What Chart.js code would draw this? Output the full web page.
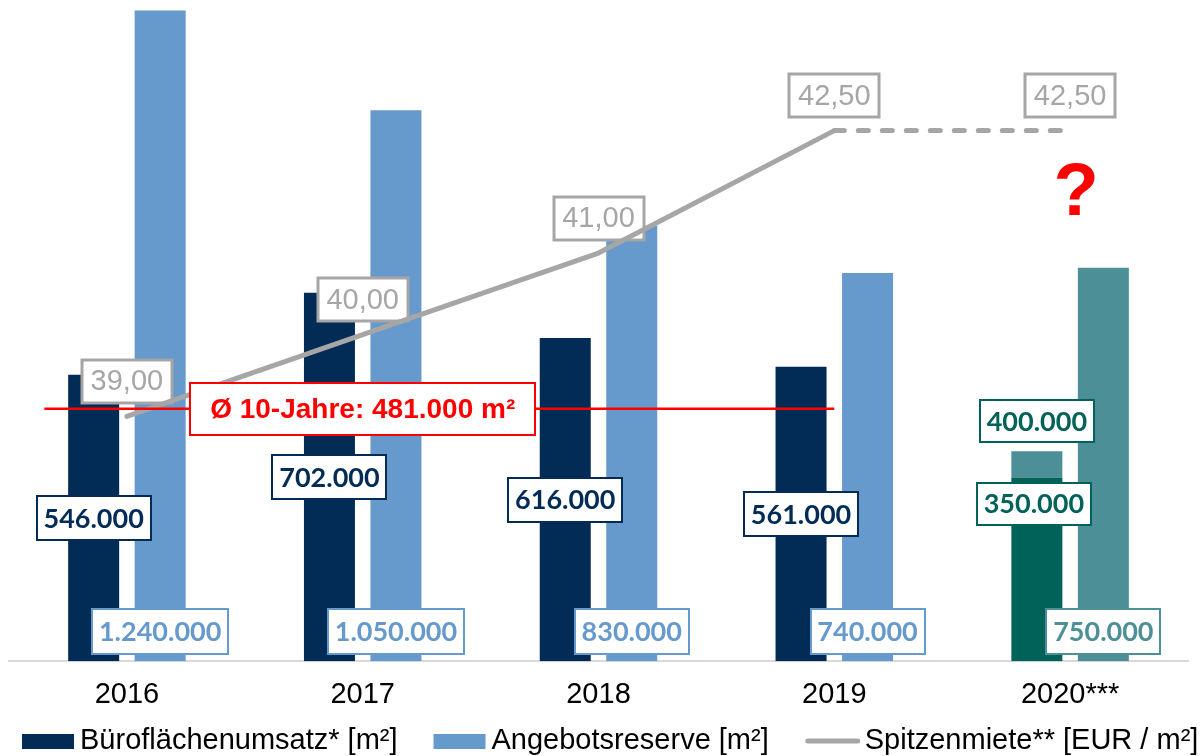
<!DOCTYPE html>
<html><head><meta charset="utf-8">
<script src="https://cdn.jsdelivr.net/npm/chart.js@4/dist/chart.umd.min.js"></script>
<style>html,body{margin:0;padding:0;background:#fff}#wrap{width:1200px;height:756px;position:relative}</style>
</head><body><div id="wrap"><canvas id="c" width="1200" height="756"></canvas></div>
<script>
// ---- data ----
const categories = ['2016', '2017', '2018', '2019', '2020***'];
const bueroUmsatz = [546000, 702000, 616000, 561000, 350000];
const bueroUmsatzZusatz = [null, null, null, null, 50000]; // 2020: 350.000 -> 400.000
const angebotsreserve = [1240000, 1050000, 830000, 740000, 750000];
const spitzenmiete = [39.00, 40.00, 41.00, 42.50, 42.50];
const zehnJahresSchnitt = 481000;
const bueroLabels = ['546.000', '702.000', '616.000', '561.000', '350.000'];
const zusatzLabel = '400.000';
const angebotLabels = ['1.240.000', '1.050.000', '830.000', '740.000', '750.000'];
const mieteLabels = ['39,00', '40,00', '41,00', '42,50', '42,50'];
const schnittLabel = 'Ø 10-Jahre: 481.000 m²';
const legendLabels = ['Büroflächenumsatz* [m²]', 'Angebotsreserve [m²]', 'Spitzenmiete** [EUR / m²]'];

// ---- styles ----
const NAVY = '#022C55', LIGHT = '#6699CC', TEAL_D = '#006259', TEAL_L = '#4C8F96', GRAY = '#A6A6A6', RED = '#FF0000';
const ARIAL = '"Liberation Sans", Arial, sans-serif';
const LABELF = 'bold 27px Lato, "Open Sans", sans-serif';

function boxLabel(ctx, text, cx, cy, o) {
  ctx.save();
  ctx.font = o.font;
  const w = Math.round(ctx.measureText(text).width + 2 * o.padX);
  const h = o.h;
  const x = Math.round(cx - w / 2), y = Math.round(cy - h / 2);
  ctx.fillStyle = '#fff';
  ctx.fillRect(x, y, w, h);
  ctx.lineWidth = o.lw;
  ctx.strokeStyle = o.border;
  ctx.strokeRect(x, y, w, h);
  ctx.fillStyle = o.color;
  ctx.textAlign = 'center';
  ctx.textBaseline = 'middle';
  ctx.fillText(text, cx, cy + (o.dy || 0));
  ctx.restore();
}

const navyStyle = { font: LABELF, padX: 7, h: 44, lw: 2, border: NAVY, color: NAVY, dy: 1 };
const tealStyle = { font: LABELF, padX: 7, h: 42, lw: 2, border: TEAL_D, color: TEAL_D, dy: 1 };
const lightStyle = { font: LABELF, padX: 7, h: 45, lw: 2, border: LIGHT, color: LIGHT, dy: 1 };
const tealLStyle = { font: LABELF, padX: 7, h: 45, lw: 2, border: TEAL_L, color: TEAL_L, dy: 1 };
const grayStyle = { font: '29px ' + ARIAL, padX: 8.5, h: 43, lw: 3, border: GRAY, color: GRAY, dy: 1 };
const redStyle = { font: 'bold 28px ' + ARIAL, padX: 20, h: 52, lw: 2, border: RED, color: RED, dy: 1 };

const labelPlugin = {
  id: 'labels',
  beforeDatasetDraw(chart, args) {
    if (args.index !== 3) return;
    const ctx = chart.ctx;
    chart.getDatasetMeta(3).data.forEach((pt, i) => {
      boxLabel(ctx, mieteLabels[i], pt.x, pt.y - 35, grayStyle);
    });
  },
  afterDatasetsDraw(chart) {
    const ctx = chart.ctx;
    const xs = chart.scales.x, ys = chart.scales.y, y1 = chart.scales.y1;
    // 10-year average line
    const ay = ys.getPixelForValue(zehnJahresSchnitt);
    ctx.save();
    ctx.strokeStyle = RED; ctx.lineWidth = 2.5;
    ctx.beginPath();
    ctx.moveTo(xs.getPixelForValue(-0.35), ay);
    ctx.lineTo(xs.getPixelForValue(3.0), ay);
    ctx.stroke();
    ctx.restore();
    boxLabel(ctx, schnittLabel, xs.getPixelForValue(1), ay, redStyle);

    // Büro labels
    const mB = chart.getDatasetMeta(0);
    mB.data.forEach((bar, i) => {
      if (i < 4) {
        boxLabel(ctx, bueroLabels[i], bar.x, (bar.y + bar.base) / 2, navyStyle);
      } else {
        boxLabel(ctx, bueroLabels[i], bar.x - 3, bar.y + 26, tealStyle);
      }
    });
    const mZ = chart.getDatasetMeta(1);
    const zb = mZ.data[4];
    boxLabel(ctx, zusatzLabel, zb.x, zb.y - 30, tealStyle);

    // Angebot labels
    chart.getDatasetMeta(2).data.forEach((bar, i) => {
      boxLabel(ctx, angebotLabels[i], bar.x, bar.base - 30, i < 4 ? lightStyle : tealLStyle);
    });

    // question mark
    ctx.save();
    ctx.fillStyle = RED;
    ctx.font = 'bold 74px ' + ARIAL;
    ctx.textAlign = 'center';
    ctx.textBaseline = 'alphabetic';
    ctx.fillText('?', xs.getPixelForValue(4) + 6, y1.getPixelForValue(42.5) + 84);
    ctx.restore();

    // legend
    ctx.save();
    ctx.font = '29px ' + ARIAL;
    ctx.textBaseline = 'alphabetic';
    ctx.textAlign = 'left';
    let x = 22;
    const ly = 741;
    const items = [
      { type: 'box', color: NAVY, text: legendLabels[0] },
      { type: 'box', color: LIGHT, text: legendLabels[1] },
      { type: 'line', color: GRAY, text: legendLabels[2] }
    ];
    items.forEach((it) => {
      if (it.type === 'box') {
        ctx.fillStyle = it.color;
        ctx.fillRect(x, ly - 7, 52, 15);
        x += 58;
      } else {
        ctx.strokeStyle = it.color; ctx.lineWidth = 5; ctx.lineCap = 'round';
        ctx.beginPath(); ctx.moveTo(x + 3, ly); ctx.lineTo(x + 53, ly); ctx.stroke();
        x += 60;
      }
      ctx.fillStyle = '#000';
      ctx.fillText(it.text, x, ly + 8);
      x += ctx.measureText(it.text).width + 36;
    });
    ctx.restore();
  }
};

const ctxC = document.getElementById('c').getContext('2d');
new Chart(ctxC, {
  type: 'bar',
  data: {
    labels: categories,
    datasets: [
      {
        label: legendLabels[0], data: bueroUmsatz, stack: 'a', order: 1,
        backgroundColor: [NAVY, NAVY, NAVY, NAVY, TEAL_D]
      },
      {
        label: '2020 Szenario', data: bueroUmsatzZusatz, stack: 'a', order: 1,
        backgroundColor: TEAL_L
      },
      {
        label: legendLabels[1], data: angebotsreserve, stack: 'b', order: 1,
        backgroundColor: [LIGHT, LIGHT, LIGHT, LIGHT, TEAL_L]
      },
      {
        type: 'line', label: legendLabels[2], data: spitzenmiete, yAxisID: 'y1', order: 0,
        borderColor: GRAY, borderWidth: 5, pointRadius: 0, borderCapStyle: 'round', borderJoinStyle: 'round',
        tension: 0, fill: false,
        segment: { borderDash: (c) => (c.p1DataIndex === 4 ? [10, 14] : undefined) }
      }
    ]
  },
  options: {
    responsive: false,
    animation: false,
    devicePixelRatio: 1,
    layout: { padding: { left: 9, right: 12, top: 0, bottom: 28 } },
    datasets: { bar: { categoryPercentage: 0.564, barPercentage: 0.767 } },
    plugins: { legend: { display: false }, tooltip: { enabled: false } },
    scales: {
      x: {
        grid: { display: false, drawTicks: false },
        border: { display: true, color: '#D9D9D9', width: 2 },
        ticks: { color: '#000', font: { family: ARIAL, size: 29 }, padding: 16, maxRotation: 0 }
      },
      y: { display: false, stacked: true, min: 0, max: 1260000 },
      y1: { display: false, position: 'right', min: 36, max: 44.1, grid: { display: false } }
    }
  },
  plugins: [labelPlugin]
});
</script>
</body></html>
